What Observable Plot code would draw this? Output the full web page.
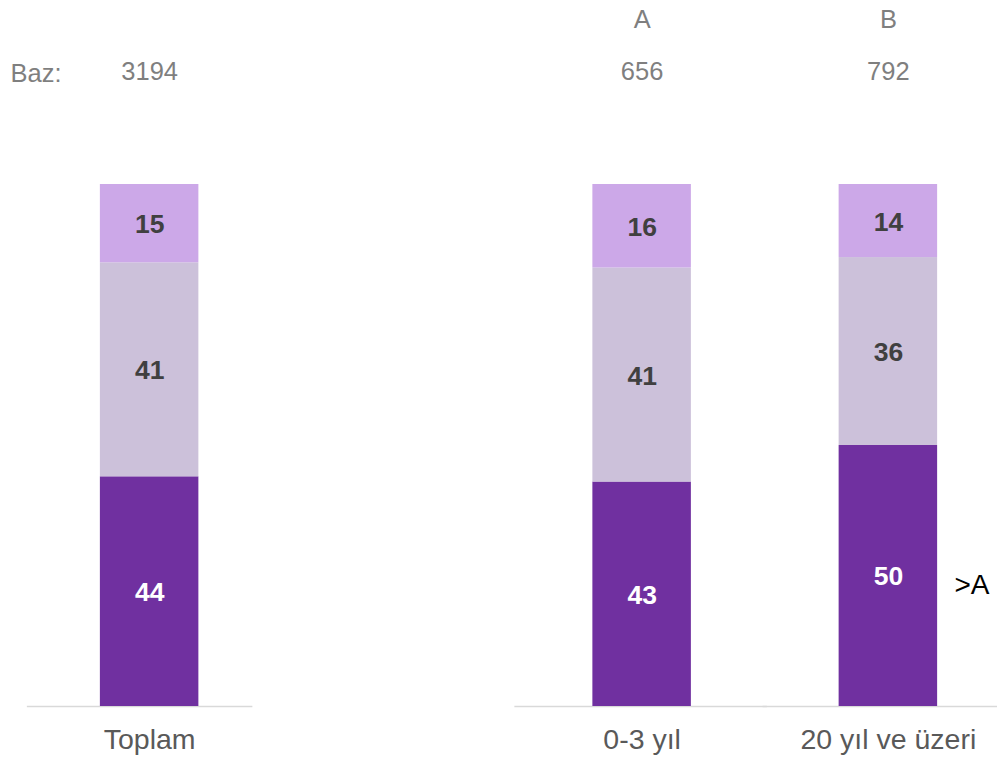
<!DOCTYPE html>
<html>
<head>
<meta charset="utf-8">
<script src="https://cdn.jsdelivr.net/npm/d3@7"></script>
<script src="https://cdn.jsdelivr.net/npm/@observablehq/plot@0.6"></script>
<style>
  html, body { margin: 0; padding: 0; background: #ffffff; }
  #chart svg { display: block; font-family: "Liberation Sans", Arial, sans-serif; }
</style>
</head>
<body>
<div id="chart"></div>
<script>
// ---- Data ----
const groups = ["Toplam", "0-3 yıl", "20 yıl ve üzeri"];
const bases = [3194, 656, 792];
const groupLetters = ["", "A", "B"];
const seriesNames = ["alt", "orta", "üst"];        // stacked from bottom to top
const bottomValues = [44, 43, 50];
const middleValues = [41, 41, 36];
const topValues = [15, 16, 14];
const sigLabels = ["", "", ">A"];                  // significance note on bottom segment
const baseLabel = "Baz:";

// ---- Build table ----
const seriesValues = [bottomValues, middleValues, topValues];
const rows = [];
groups.forEach((g, i) => {
  seriesNames.forEach((s, j) => {
    rows.push({group: g, series: s, value: seriesValues[j][i], sig: j === 0 ? sigLabels[i] : ""});
  });
});
const header = groups.map((g, i) => ({group: g, base: bases[i], letter: groupLetters[i]}));

const gapKey = " ";
const xDomain = [groups[0], gapKey, groups[1], groups[2]];
const segColors = ["#7030A0", "#CCC1DA", "#CCA8E8"];
const font = "'Liberation Sans', Arial, sans-serif";

// baseline segments (style insets per category)
const baseInsets = {
  "Toplam": [-73, -54],
  "0-3 yıl": [-78, -76],
  "20 yıl ve üzeri": [-76, -62]
};

const marks = [];
for (const g of groups) {
  marks.push(Plot.tickY(header.filter(d => d.group === g), {
    x: "group", y: () => 0, stroke: "#D9D9D9", strokeWidth: 1.5,
    insetLeft: baseInsets[g][0], insetRight: baseInsets[g][1]
  }));
}
marks.push(
  Plot.barY(rows, Plot.stackY({x: "group", y: "value", z: "series", fill: "series", order: null})),
  Plot.text(rows, Plot.stackY({
    x: "group", y: "value", z: "series",
    text: d => d.series === seriesNames[0] ? String(d.value) : "",
    fill: "white", fontSize: 26.5, fontWeight: "bold", fontFamily: font, dy: 1
  })),
  Plot.text(rows, Plot.stackY({
    x: "group", y: "value", z: "series",
    text: d => d.series !== seriesNames[0] ? String(d.value) : "",
    fill: "#404040", fontSize: 26.5, fontWeight: "bold", fontFamily: font, dy: 1
  })),
  Plot.text(rows, Plot.stackY({
    x: "group", y: "value", z: "series", text: "sig",
    fill: "black", fontSize: 28, textAnchor: "start", dx: 66, dy: 9, fontFamily: font
  })),
  // base counts
  Plot.text(header, {x: "group", text: d => String(d.base), frameAnchor: "top", dy: -123,
    fill: "#7F7F7F", fontSize: 25.5, fontFamily: font}),
  // column letters
  Plot.text(header, {x: "group", text: "letter", frameAnchor: "top", dy: -175,
    fill: "#7F7F7F", fontSize: 25.5, fontFamily: font}),
  // "Baz:"
  Plot.text([baseLabel], {text: d => d, frameAnchor: "top-left", dx: 10, dy: -121, textAnchor: "start",
    fill: "#7F7F7F", fontSize: 25.5, fontFamily: font}),
  // category labels
  Plot.text(header, {x: "group", text: "group", frameAnchor: "bottom", dy: 42,
    fill: "#595959", fontSize: 28.5, fontFamily: font})
);

const chart = Plot.plot({
  width: 997,
  height: 758,
  marginTop: 184,
  marginBottom: 52,
  marginLeft: 0,
  marginRight: 0,
  style: {fontFamily: font, background: "white", overflow: "visible"},
  x: {type: "band", domain: xDomain, range: [26, 1011], paddingInner: 0.6, paddingOuter: 0.3, round: false, axis: null},
  y: {domain: [0, 100], axis: null},
  color: {domain: seriesNames, range: segColors},
  marks
});
document.getElementById("chart").appendChild(chart);
</script>
</body>
</html>
